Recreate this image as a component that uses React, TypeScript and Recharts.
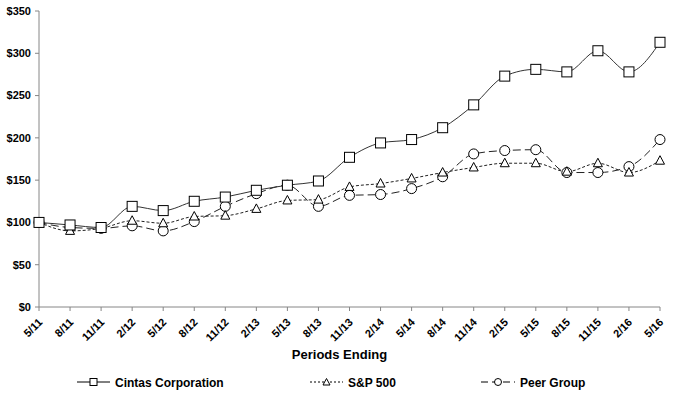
import { LineChart, Line, XAxis, YAxis, Label } from "recharts";

const periods = ["5/11", "8/11", "11/11", "2/12", "5/12", "8/12", "11/12", "2/13", "5/13", "8/13", "11/13", "2/14", "5/14", "8/14", "11/14", "2/15", "5/15", "8/15", "11/15", "2/16", "5/16"];
const cintas = [100, 97, 94, 119, 114, 125, 130, 138, 144, 149, 177, 194, 198, 212, 239, 273, 281, 278, 303, 278, 313];
const sp500 = [100, 90, 93, 102, 99, 107, 108, 116, 126, 127, 142, 146, 152, 159, 165, 170, 170, 160, 170, 159, 173];
const peerGroup = [100, 94, 93, 96, 90, 101, 119, 134, 144, 119, 132, 133, 140, 154, 181, 185, 186, 159, 159, 166, 198];
const yTicks = [0, 50, 100, 150, 200, 250, 300, 350];

const data = periods.map((period, i) => ({
  period,
  cintas: cintas[i],
  sp500: sp500[i],
  peer: peerGroup[i],
}));

const FONT = "'Liberation Sans', Arial, sans-serif";
const AXIS = "#868686";

const SquareDot = ({ cx, cy }: any) => (
  <rect x={cx - 5} y={cy - 5} width={10} height={10} fill="#fff" stroke="#000" strokeWidth={1} />
);

const TriangleDot = ({ cx, cy }: any) => (
  <path d={`M${cx},${cy - 5} L${cx + 4.5},${cy + 3.5} L${cx - 4.5},${cy + 3.5} Z`} fill="#fff" stroke="#000" strokeWidth={1} />
);

const CircleDot = ({ cx, cy }: any) => (
  <circle cx={cx} cy={cy} r={5} fill="#fff" stroke="#000" strokeWidth={1} />
);

function PeriodTick({ x, y, payload }: any) {
  const ax = x + 4;
  const ay = y + 10;
  return (
    <text
      x={ax}
      y={ay}
      transform={`rotate(-45, ${ax}, ${ay})`}
      textAnchor="end"
      fontSize={11}
      fontWeight="bold"
      fontFamily={FONT}
      fill="#000"
    >
      {payload.value}
    </text>
  );
}

function LegendRow() {
  const text = { fontSize: 12, fontWeight: "bold" as const, fontFamily: FONT, fill: "#000" };
  return (
    <svg width={674} height={24} style={{ position: "absolute", left: 0, top: 370 }}>
      <line x1={77} y1={12} x2={110} y2={12} stroke="#000" strokeWidth={1} />
      <rect x={90} y={8.5} width={7} height={7} fill="#fff" stroke="#000" />
      <text x={115} y={17} {...text}>Cintas Corporation</text>

      <line x1={310} y1={12} x2={343} y2={12} stroke="#000" strokeWidth={1} strokeDasharray="2 2" />
      <path d="M326.5,8.5 L330,15 L323,15 Z" fill="#fff" stroke="#000" />
      <text x={348} y={17} {...text}>S&amp;P 500</text>

      <line x1={481} y1={12} x2={515} y2={12} stroke="#000" strokeWidth={1} strokeDasharray="7 4" />
      <circle cx={498} cy={12} r={3.5} fill="#fff" stroke="#000" />
      <text x={520} y={17} {...text}>Peer Group</text>
    </svg>
  );
}

export default function App() {
  return (
    <div style={{ position: "absolute", left: 0, top: 0, width: 674, height: 397, background: "#fff" }}>
      <LineChart width={674} height={397} data={data} margin={{ top: 11, right: 14, bottom: 0, left: 0 }}>
        <XAxis
          dataKey="period"
          interval={0}
          height={90}
          tick={<PeriodTick />}
          tickSize={4}
          tickMargin={2}
          stroke={AXIS}
          tickLine={{ stroke: AXIS }}
        >
          <Label
            value="Periods Ending"
            position="insideTop"
            offset={43}
            dx={-10}
            style={{ fontSize: 13, fontWeight: "bold", fontFamily: FONT, fill: "#000" }}
          />
        </XAxis>
        <YAxis
          width={39}
          domain={[0, 350]}
          ticks={yTicks}
          interval={0}
          tickFormatter={(v: number) => `$${v}`}
          tickSize={4}
          tickMargin={4}
          stroke={AXIS}
          tick={{ fontSize: 11, fontWeight: "bold", fontFamily: FONT, fill: "#000" }}
        />
        <Line
          type="monotone"
          dataKey="peer"
          stroke="#222"
          strokeWidth={1}
          strokeDasharray="8 4"
          dot={<CircleDot />}
          isAnimationActive={false}
        />
        <Line
          type="monotone"
          dataKey="sp500"
          stroke="#222"
          strokeWidth={1}
          strokeDasharray="3 2"
          dot={<TriangleDot />}
          isAnimationActive={false}
        />
        <Line
          type="monotone"
          dataKey="cintas"
          stroke="#333"
          strokeWidth={1}
          dot={<SquareDot />}
          isAnimationActive={false}
        />
      </LineChart>
      <LegendRow />
    </div>
  );
}
